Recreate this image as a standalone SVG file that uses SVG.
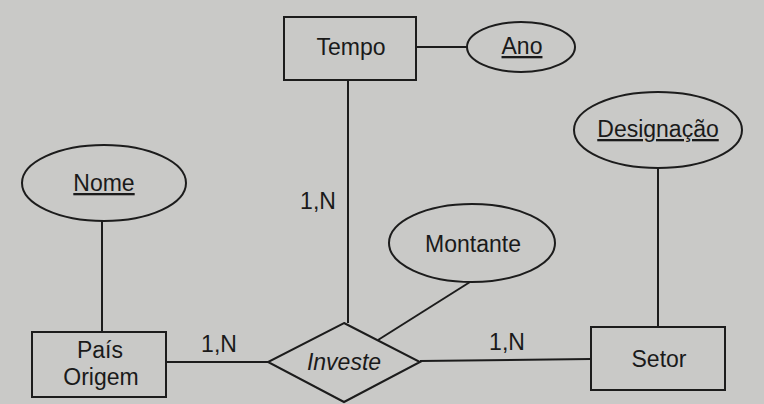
<svg xmlns="http://www.w3.org/2000/svg" width="764" height="404" viewBox="0 0 764 404">
<style>
.bg{fill:#c9c9c7}
.sh{fill:none;stroke:#1c1c1c;stroke-width:2}
.ln{stroke:#1c1c1c;stroke-width:2;fill:none}
.t{font-family:"Liberation Sans",Arial,sans-serif;font-size:23px;fill:#1a1a1a;text-anchor:middle}
.u{text-decoration:underline}
.i{font-style:italic}
</style>
<rect class="bg" x="0" y="0" width="764" height="404"/>
<g id="connectors">
<line class="ln" x1="416" y1="47" x2="467" y2="47"/>
<line class="ln" x1="348" y1="80" x2="348" y2="323"/>
<line class="ln" x1="102" y1="221" x2="102" y2="332"/>
<line class="ln" x1="658" y1="168" x2="658" y2="327"/>
<line class="ln" x1="470" y1="282" x2="378" y2="340"/>
<line class="ln" x1="166" y1="362" x2="268" y2="362"/>
<line class="ln" x1="420" y1="361" x2="591" y2="359"/>
<text class="t" x="318" y="209">1,N</text>
<text class="t" x="219" y="352">1,N</text>
<text class="t" x="507" y="350">1,N</text>
</g>
<g id="tempo">
<rect class="sh" x="284" y="17" width="132" height="63"/>
<text class="t" x="351" y="55">Tempo</text>
</g>
<g id="ano">
<ellipse class="sh" cx="521" cy="47" rx="54" ry="25"/>
<text class="t u" x="522" y="54">Ano</text>
</g>
<g id="nome">
<ellipse class="sh" cx="104" cy="183" rx="82" ry="38"/>
<text class="t u" x="104" y="191">Nome</text>
</g>
<g id="designacao">
<ellipse class="sh" cx="658" cy="130" rx="84" ry="38"/>
<text class="t u" x="658" y="137">Designação</text>
</g>
<g id="montante">
<ellipse class="sh" cx="472" cy="243" rx="83" ry="39"/>
<text class="t" x="473" y="252">Montante</text>
</g>
<g id="pais">
<rect class="sh" x="32" y="332" width="134" height="65"/>
<text class="t" x="100" y="358">País</text>
<text class="t" x="101" y="385">Origem</text>
</g>
<g id="investe">
<polygon class="sh" points="344,323 420,362 344,402 268,362"/>
<text class="t i" x="344" y="370">Investe</text>
</g>
<g id="setor">
<rect class="sh" x="591" y="327" width="134" height="63"/>
<text class="t" x="659" y="367">Setor</text>
</g>
</svg>
